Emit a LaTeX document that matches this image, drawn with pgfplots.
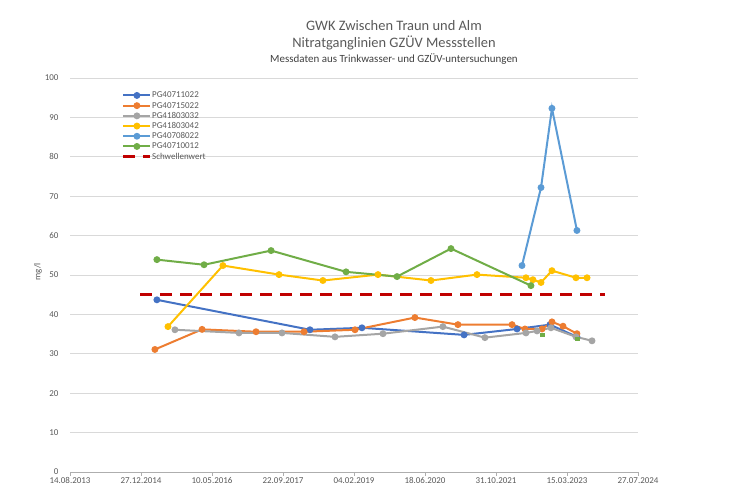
\documentclass[border=0pt]{standalone}
\usepackage{pgfplots}
\pgfplotsset{compat=1.18}
\usepackage{fontspec}
\setmainfont{Carlito}
\definecolor{cblue}{HTML}{4472C4}
\definecolor{corange}{HTML}{ED7D31}
\definecolor{cgray}{HTML}{A5A5A5}
\definecolor{cyellow}{HTML}{FFC000}
\definecolor{clblue}{HTML}{5B9BD5}
\definecolor{cgreen}{HTML}{70AD47}
\definecolor{cred}{HTML}{C00000}
\definecolor{ctext}{HTML}{595959}
\definecolor{cgrid}{HTML}{D9D9D9}
\begin{document}
\begin{tikzpicture}
\path[use as bounding box] (-70bp,-16bp) rectangle (686bp,472bp);
\begin{axis}[
  at={(0,0)}, anchor=south west,
  scale only axis, width=568bp, height=394bp,
  xmin=41500, xmax=45500, ymin=0, ymax=100,
  clip=false,
  scaled x ticks=false, scaled y ticks=false,
  axis x line*=bottom, axis y line*=left,
  x axis line style={draw=cgrid!80!black, line width=0.6bp, -},
  y axis line style={draw=none},
  xtick={41500,42000,42500,43000,43500,44000,44500,45000,45500},
  xticklabels={14.08.2013,27.12.2014,10.05.2016,22.09.2017,04.02.2019,18.06.2020,31.10.2021,15.03.2023,27.07.2024},
  tick align=outside,
  major tick length=4bp,
  xtick style={draw=cgrid!80!black, line width=0.6bp},
  ytick style={draw=none},
  ytick={0,10,...,100},
  ymajorgrids, grid style={draw=cgrid, line width=0.6bp},
  /pgf/number format/assume math mode=true,
  ticklabel style={font=\fontsize{9}{10}\selectfont, text=ctext},
  xticklabel style={inner sep=1.5bp},
  yticklabel style={xshift=-4bp},
  legend style={at={(0.0915,0.968)}, anchor=north west, draw=none, fill=none, inner sep=0pt,
    font=\fontsize{9}{10}\selectfont, text=ctext, row sep=0.9bp,
    nodes={inner sep=0.5bp, text height=6.5bp, text depth=1.8bp}},
  legend cell align=left,
  legend image code/.code={\draw[mark repeat=2,mark phase=2] plot coordinates {(0bp,0bp) (13.5bp,0bp) (27bp,0bp)};},
]
\pgfplotsset{
  ser/.style={color=#1, line width=2bp, mark=*, mark size=2.4bp, mark options={solid, fill=#1}},
}
\addplot[ser=cblue] coordinates {(42112,43.7) (43190,36.1) (43556,36.6) (44275,34.8) (44648,36.3) (44880,37.4) (45070,34.3)};
\addlegendentry{PG40711022}
\addplot[ser=corange] coordinates {(42098,31.1) (42430,36.2) (42810,35.6) (43148,35.6) (43507,36.1) (43929,39.2) (44232,37.4) (44613,37.4) (44704,36.3) (44824,36.3) (44894,38.1) (44972,37.0) (45070,35.1)};
\addlegendentry{PG40715022}
\addplot[ser=cgray] coordinates {(42239,36.1) (42690,35.3) (42993,35.3) (43366,34.3) (43704,35.1) (44126,36.9) (44422,34.1) (44711,35.3) (44789,35.8) (44887,36.6) (45063,34.3) (45176,33.3)};
\addlegendentry{PG41803032}
\addplot[ser=cyellow] coordinates {(42190,36.9) (42577,52.4) (42972,50.1) (43281,48.6) (43669,50.1) (44042,48.6) (44366,50.1) (44711,49.3) (44760,48.8) (44817,48.1) (44894,51.1) (45063,49.3) (45141,49.3)};
\addlegendentry{PG41803042}
\addplot[ser=clblue] coordinates {(44683,52.4) (44817,72.2) (44894,92.3) (45070,61.3)};
\addlegendentry{PG40708022}
\addplot[ser=cgreen] coordinates {(42112,53.9) (42444,52.6) (42916,56.2) (43444,50.8) (43803,49.6) (44183,56.7) (44746,47.3)};
\addlegendentry{PG40710012}
\addplot[color=cred, line width=2.5bp, dash pattern=on 12bp off 8bp] coordinates {(41993,45) (45268,45)};
\addlegendentry{Schwellenwert}
\addplot[only marks, mark=square*, mark size=1.8bp, color=cgreen, forget plot] coordinates {(44824,34.8) (45070,33.8)};
\end{axis}
\node[text=ctext, font=\fontsize{14.5}{16}\selectfont] at (324bp,446bp) {GWK Zwischen Traun und Alm};
\node[text=ctext, font=\fontsize{14.5}{16}\selectfont] at (324bp,429bp) {Nitratganglinien GZÜV Messstellen};
\node[text=black!75, font=\fontsize{11}{12}\selectfont] at (324bp,413bp) {Messdaten aus Trinkwasser- und GZÜV-untersuchungen};
\node[text=ctext, font=\fontsize{9}{10}\selectfont, rotate=90] at (-32bp,200bp) {mg/l};
\end{tikzpicture}
\end{document}
